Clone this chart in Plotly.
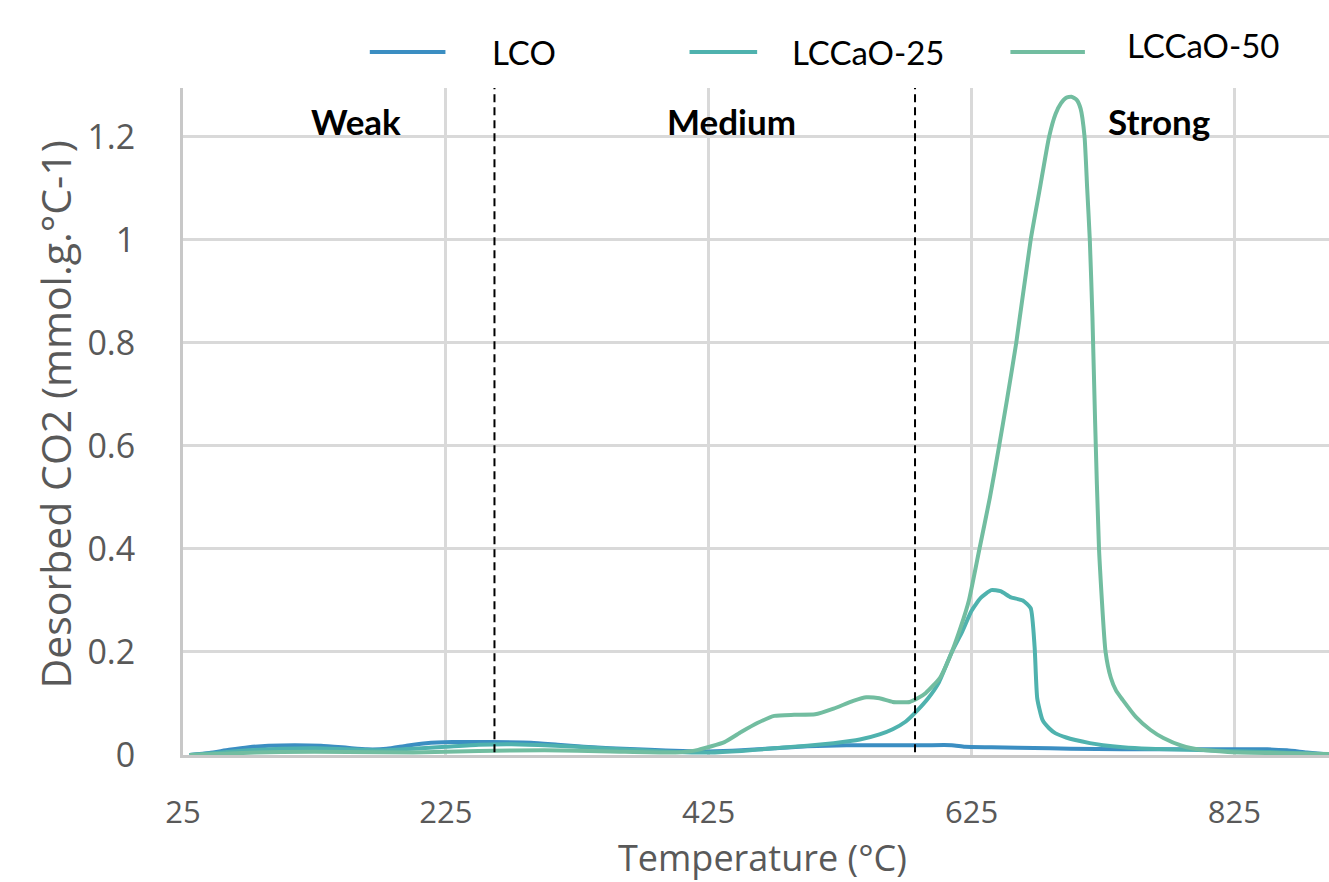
import plotly.graph_objects as go

# ---------------- data ----------------
lco_t = [30, 45, 60, 75, 90, 110, 130, 150, 165, 180, 195, 210, 230, 260, 290, 310, 330, 350,
         380, 405, 425, 450, 475, 500, 530, 560, 590, 610, 620, 640, 660, 685, 700, 740, 780,
         820, 850, 865, 880, 897]
lco_v = [0.0, 0.004, 0.010, 0.015, 0.018, 0.019, 0.018, 0.014, 0.011, 0.012, 0.018, 0.023, 0.025,
         0.025, 0.024, 0.020, 0.016, 0.013, 0.010, 0.008, 0.007, 0.009, 0.013, 0.017, 0.019, 0.019,
         0.019, 0.019, 0.016, 0.015, 0.014, 0.013, 0.012, 0.011, 0.011, 0.011, 0.011, 0.009, 0.005,
         0.001]

c25_t = [30, 50, 75, 100, 125, 150, 175, 200, 225, 250, 275, 300, 325, 350, 375, 400, 425, 450,
         475, 500, 520, 540, 555, 565, 575, 584, 592, 600, 610, 618, 625, 632, 640, 647, 655, 664,
         670, 673, 675, 679, 684, 689, 697, 704, 715, 725, 740, 760, 790, 820, 850, 880, 897]
c25_v = [0.0, 0.004, 0.009, 0.012, 0.013, 0.011, 0.009, 0.012, 0.016, 0.020, 0.021, 0.019, 0.016,
         0.012, 0.009, 0.006, 0.005, 0.008, 0.013, 0.018, 0.023, 0.030, 0.040, 0.050, 0.065, 0.087,
         0.110, 0.140, 0.200, 0.240, 0.280, 0.305, 0.320, 0.318, 0.306, 0.300, 0.285, 0.210, 0.110,
         0.068, 0.052, 0.042, 0.034, 0.029, 0.023, 0.019, 0.015, 0.012, 0.010, 0.008, 0.006, 0.003,
         0.001]

c50_t = [30, 60, 100, 150, 200, 250, 300, 350, 400, 417, 437, 450, 462, 475, 490, 506, 520, 535,
         545, 555, 565, 578, 584, 590, 601, 610, 617, 623, 631, 639, 646, 652, 659, 670, 677, 684,
         689, 693, 697, 701, 705, 708, 711, 713, 715, 717, 719, 722, 727, 731, 735, 740, 750, 761,
         771, 785, 800, 820, 850, 897]
c50_v = [0.0, 0.003, 0.006, 0.006, 0.005, 0.008, 0.009, 0.007, 0.005, 0.010, 0.025, 0.045, 0.062,
         0.076, 0.078, 0.079, 0.090, 0.105, 0.112, 0.110, 0.103, 0.103, 0.110, 0.120, 0.150, 0.200,
         0.250, 0.300, 0.400, 0.500, 0.600, 0.690, 0.800, 1.000, 1.100, 1.200, 1.245, 1.265, 1.276,
         1.278, 1.272, 1.255, 1.200, 1.100, 1.000, 0.850, 0.650, 0.400, 0.200, 0.150, 0.125, 0.107,
         0.074, 0.049, 0.033, 0.018, 0.010, 0.006, 0.004, 0.002]

series_names = ["LCO", "LCCaO-25", "LCCaO-50"]
series_colors = ["#3b8ec2", "#4fb2ae", "#72bda0"]

x_ticks = [25, 225, 425, 625, 825]
y_ticks = [0, 0.2, 0.4, 0.6, 0.8, 1.0, 1.2]
y_tick_labels = ["0", "0.2", "0.4", "0.6", "0.8", "1", "1.2"]

region_bounds = [262, 582]
region_labels = ["Weak", "Medium", "Strong"]
region_label_x = [157, 442, 768]
region_label_y = 1.23

x_title = "Temperature (°C)"
y_title = "Desorbed CO2 (mmol.g.°C-1)"

# ---------------- figure ----------------
FONT = "Lato"
WIDE = "Open Sans"
fig = go.Figure()
for t, v, name, col in zip([lco_t, c25_t, c50_t], [lco_v, c25_v, c50_v], series_names, series_colors):
    fig.add_trace(go.Scatter(x=t, y=v, mode="lines", name=name,
                             line=dict(color=col, width=4, shape="spline", smoothing=0.5),
                             showlegend=False))

# region boundaries
for xb in region_bounds:
    fig.add_shape(type="line", xref="x", yref="y", x0=xb, x1=xb, y0=-0.02, y1=1.295,
                  line=dict(color="black", width=2, dash="8px,5px"), layer="above")

for lab, lx in zip(region_labels, region_label_x):
    fig.add_annotation(x=lx, y=region_label_y, xref="x", yref="y", text="<b>%s</b>" % lab,
                       showarrow=False, font=dict(family=FONT, size=35, color="black"))

# manual legend
leg_line_x = [(0.163, 0.229), (0.442, 0.501), (0.722, 0.787)]
leg_text_x = [0.268, 0.530, 0.822]
leg_text_y = [1.054, 1.054, 1.064]
for (a, b), tx, ty, name, col in zip(leg_line_x, leg_text_x, leg_text_y, series_names, series_colors):
    fig.add_shape(type="line", xref="paper", yref="paper", x0=a, x1=b, y0=1.054, y1=1.054,
                  line=dict(color=col, width=4))
    fig.add_annotation(x=tx, y=ty, xref="paper", yref="paper", text=name, showarrow=False,
                       xanchor="left", yanchor="middle",
                       font=dict(family=FONT, size=33, color="black"))

# axis titles
fig.add_annotation(x=0.506, y=-0.154, xref="paper", yref="paper", text=x_title, showarrow=False,
                   xanchor="center", yanchor="middle", font=dict(family=WIDE, size=36, color="#595959"))
fig.add_annotation(x=-0.112, y=0.51, xref="paper", yref="paper", text=y_title, showarrow=False,
                   textangle=-90, xanchor="center", yanchor="middle",
                   font=dict(family=WIDE, size=41, color="#595959"))

fig.update_xaxes(range=[25, 897], tickvals=x_ticks, ticktext=[str(v) for v in x_ticks],
                 showgrid=True, gridcolor="#d9d9d9", gridwidth=2.5,
                 showline=True, linecolor="#c8c8c8", linewidth=3, zeroline=False,
                 ticks="", ticklabelstandoff=28,
                 tickfont=dict(family=WIDE, size=31, color="#595959"))
fig.update_yaxes(range=[0, 1.295], tickvals=y_ticks, ticktext=y_tick_labels,
                 showgrid=True, gridcolor="#d9d9d9", gridwidth=2.5,
                 showline=True, linecolor="#c8c8c8", linewidth=3, zeroline=False,
                 ticks="", ticklabelstandoff=38,
                 tickfont=dict(family=WIDE, size=34, color="#595959"))

fig.update_layout(width=1329, height=882, margin=dict(l=183, r=0, t=88, b=127),
                  paper_bgcolor="white", plot_bgcolor="white", showlegend=False)

fig.write_html("out.html")
